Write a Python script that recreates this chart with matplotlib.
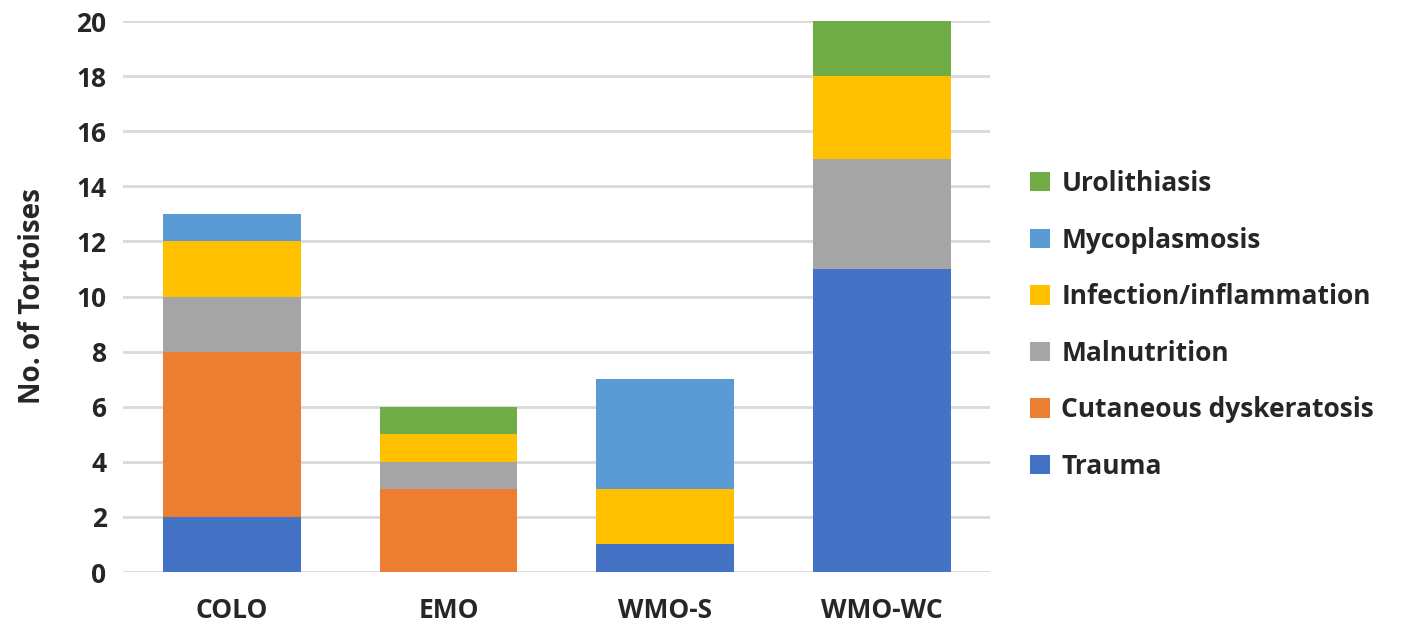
import numpy as np
import matplotlib.pyplot as plt

# data
sites = ['COLO', 'EMO', 'WMO-S', 'WMO-WC']
trauma = [2, 0, 1, 11]
cutaneous = [6, 3, 0, 0]
malnutrition = [2, 1, 0, 4]
infection = [2, 1, 2, 3]
mycoplasmosis = [1, 0, 4, 0]
urolithiasis = [0, 1, 0, 2]

series = [
    ('Trauma', trauma, '#4472C4'),
    ('Cutaneous dyskeratosis', cutaneous, '#ED7D31'),
    ('Malnutrition', malnutrition, '#A5A5A5'),
    ('Infection/inflammation', infection, '#FFC000'),
    ('Mycoplasmosis', mycoplasmosis, '#5B9BD5'),
    ('Urolithiasis', urolithiasis, '#70AD47'),
]

plt.rcParams['font.family'] = ['Open Sans', 'DejaVu Sans']

fig = plt.figure(figsize=(14.17, 6.37), dpi=100)
ax = fig.add_axes([0.087, 0.102, 0.612, 0.865])

x = np.arange(len(sites))
bottom = np.zeros(len(sites))
handles = []
for name, vals, col in series:
    vals = np.array(vals, dtype=float)
    b = ax.bar(x, vals, 0.635, bottom=bottom, color=col, label=name, zorder=3)
    handles.append(b)
    bottom += vals

ax.set_xlim(-0.5, 3.5)
ax.set_ylim(0, 20)
ax.set_yticks(range(0, 21, 2))
ax.set_xticks(x)
ax.set_xticklabels(sites)
ax.grid(axis='y', color='#d9d9d9', linewidth=2, zorder=0)
for s in ax.spines.values():
    s.set_visible(False)
ax.tick_params(length=0, labelsize=19, colors='#262626', pad=12)
for lbl in ax.get_xticklabels() + ax.get_yticklabels():
    lbl.set_fontweight('bold')
ax.tick_params(axis='x', pad=18)
ax.set_ylabel('No. of Tortoises', fontsize=20, fontweight='bold', color='#262626')
ax.yaxis.set_label_coords(-0.088, 0.5)

fig.legend(handles[::-1], [s[0] for s in series][::-1], loc='center left',
           bbox_to_anchor=(0.71, 0.49), frameon=False,
           prop={'size': 19, 'weight': 'bold'}, labelcolor='#262626',
           handlelength=0.75, handleheight=0.75, labelspacing=1.12, handletextpad=0.45)

fig.savefig('out.png', dpi=100)
